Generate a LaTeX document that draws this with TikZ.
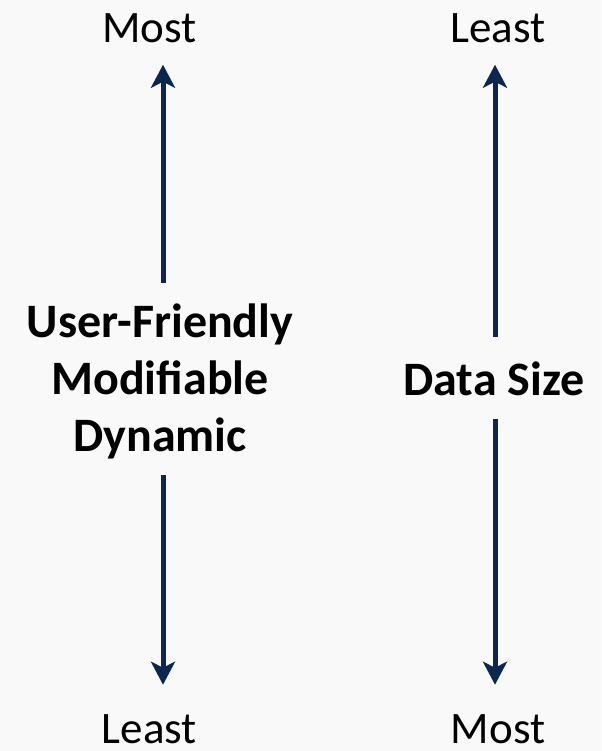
\documentclass[tikz,border=0pt]{standalone}
\usepackage{fontspec}
\setmainfont{Carlito}
\usetikzlibrary{
    arrows.meta,
}
\definecolor{navy}{HTML}{0B2650}
\definecolor{paper}{HTML}{F9F9F9}

\begin{document}
\begin{tikzpicture}[x=0.5pt, y=-0.5pt,
    every node/.style={inner sep=0pt},
    ends/.style={font=\fontsize{22.5}{27}\selectfont, anchor=base},
    feature/.style={font=\fontsize{24}{28.5}\selectfont\bfseries, align=center},
    rank arrow/.style={draw=navy, line width=2.5pt,
      -{Stealth[length=11.5pt, width=12pt, inset=3pt]}},
  ]
  \fill [paper] (0,0) rectangle (601,751);
  \useasboundingbox (0,0) rectangle (601,751);

  \node [ends] (lmost)  at (149.5,42)  {Most};
  \node [ends] (lleast) at (149.5,743) {Least};
  \node [ends] (rleast) at (498,42)    {Least};
  \node [ends] (rmost)  at (498,743)   {Most};

  \node [feature] (usage) at (160,381) {User-Friendly\\Modifiable\\Dynamic};
  \node [feature, anchor=base] (size) at (494,395) {Data Size};

  \coordinate (lx) at (163,0);
  \coordinate (rx) at (495,0);

  \draw [rank arrow, shorten <=10pt, shorten >=11pt] (usage.north -| lx) -- (lmost.south -| lx);
  \draw [rank arrow, shorten <=8pt, shorten >=14.5pt] (usage.south -| lx) -- (lleast.north -| lx);
  \draw [rank arrow, shorten <=12pt, shorten >=11pt] (size.north -| rx) -- (rleast.south -| rx);
  \draw [rank arrow, shorten <=11.5pt, shorten >=14.5pt] (size.south -| rx) -- (rmost.north -| rx);
\end{tikzpicture}
\end{document}
